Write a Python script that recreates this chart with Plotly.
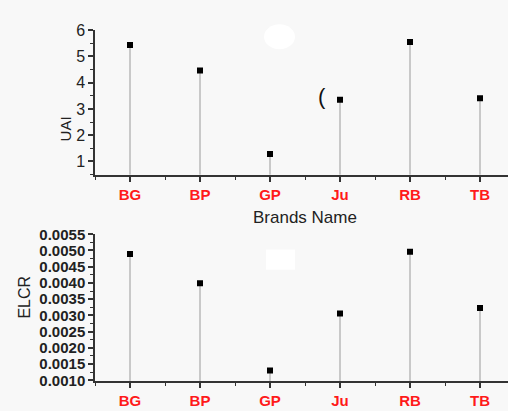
import plotly.graph_objects as go

brands = ["BG", "BP", "GP", "Ju", "RB", "TB"]
uai = [5.43, 4.46, 1.28, 3.35, 5.55, 3.41]
elcr = [0.00489, 0.00399, 0.00130, 0.00306, 0.00496, 0.00323]
uai_ticks = [1, 2, 3, 4, 5, 6]
elcr_ticks = [0.0010, 0.0015, 0.0020, 0.0025, 0.0030, 0.0035, 0.0040, 0.0045, 0.0050, 0.0055]

W, H = 508, 411
FONT = "Arial, Liberation Sans, sans-serif"
uai_range = [0.49, 6.0]
elcr_range = [0.00098, 0.0055]
xpos = list(range(len(brands)))


def stems(vals, base):
    xs, ys = [], []
    for x, v in zip(xpos, vals):
        xs += [x, x, None]
        ys += [base, v, None]
    return xs, ys


fig = go.Figure()
sx, sy = stems(uai, uai_range[0])
fig.add_trace(go.Scatter(x=sx, y=sy, mode="lines", line=dict(color="#9a9a9a", width=1),
                         xaxis="x", yaxis="y", hoverinfo="skip", showlegend=False))
fig.add_trace(go.Scatter(x=xpos, y=uai, mode="markers",
                         marker=dict(symbol="square", size=6, color="black"),
                         xaxis="x", yaxis="y", showlegend=False))
sx, sy = stems(elcr, elcr_range[0])
fig.add_trace(go.Scatter(x=sx, y=sy, mode="lines", line=dict(color="#9a9a9a", width=1),
                         xaxis="x2", yaxis="y2", hoverinfo="skip", showlegend=False))
fig.add_trace(go.Scatter(x=xpos, y=elcr, mode="markers",
                         marker=dict(symbol="square", size=6, color="black"),
                         xaxis="x2", yaxis="y2", showlegend=False))

x_left = 95 / W
xcommon = dict(range=[-0.5, 5.4], tickvals=xpos, ticktext=brands, showgrid=False,
               zeroline=False, showline=True, linecolor="#333", linewidth=1.5,
               ticks="outside", ticklen=5, tickwidth=1.5, tickcolor="#333",
               tickfont=dict(family=FONT, size=15, color="#ff1a1a", weight="bold"),
               minor=dict(ticks="outside", tick0=0.5, dtick=1, ticklen=3, tickwidth=1.2,
                          tickcolor="#333"),
               fixedrange=True)
ycommon = dict(showgrid=False, zeroline=False, showline=True, linecolor="#333", linewidth=1.5,
               ticks="outside", ticklen=5, tickwidth=1.5, tickcolor="#333", fixedrange=True)

fig.update_layout(
    width=W, height=H,
    margin=dict(l=0, r=0, t=0, b=0),
    paper_bgcolor="#f8f8f8", plot_bgcolor="#f8f8f8",
    xaxis=dict(domain=[x_left, 1.0], anchor="y", **xcommon),
    yaxis=dict(domain=[1 - 173 / H, 1 - 22 / H], anchor="x", range=uai_range,
               tickvals=uai_ticks, ticktext=[str(t) for t in uai_ticks],
               tickfont=dict(family=FONT, size=16, color="#222"),
               minor=dict(ticks="outside", tick0=0.5, dtick=1, ticklen=3, tickwidth=1.2,
                          tickcolor="#333"),
               **ycommon),
    xaxis2=dict(domain=[x_left, 1.0], anchor="y2", **xcommon),
    yaxis2=dict(domain=[1 - 388 / H, 1 - 235 / H], anchor="x2", range=elcr_range,
                tickvals=elcr_ticks, ticktext=[f"{t:.4f}" for t in elcr_ticks],
                tickfont=dict(family=FONT, size=15, color="#222", weight="bold"),
                minor=dict(ticks="outside", tick0=0.00125, dtick=0.0005, ticklen=3,
                           tickwidth=1.2, tickcolor="#333"),
                **ycommon),
    showlegend=False,
    annotations=[
        dict(text="Brands Name", x=305 / W, y=1 - 217 / H, xref="paper", yref="paper",
             showarrow=False, font=dict(family=FONT, size=17, color="#222")),
        dict(text="UAI", x=55 / W, y=1 - 110 / H, xref="paper", yref="paper", textangle=-90,
             showarrow=False, font=dict(family=FONT, size=15, color="#222")),
        dict(text="ELCR", x=14 / W, y=1 - 325 / H, xref="paper", yref="paper", textangle=-90,
             showarrow=False, font=dict(family=FONT, size=16, color="#222")),
        dict(text="(", x=322 / W, y=1 - 76 / H, xref="paper", yref="paper",
             showarrow=False, font=dict(family=FONT, size=22, color="#111")),
    ],
    shapes=[
        dict(type="circle", xref="paper", yref="paper", x0=264 / W, x1=295 / W,
             y0=1 - 42 / H, y1=1 - 16 / H, fillcolor="white", line=dict(width=0), layer="below"),
        dict(type="rect", xref="paper", yref="paper", x0=266 / W, x1=295 / W,
             y0=1 - 272 / H, y1=1 - 251 / H, fillcolor="white", line=dict(width=0), layer="below"),
    ],
)

fig.write_html("out.html", config={"displayModeBar": False},
               post_script="document.body.style.margin='0px';")
